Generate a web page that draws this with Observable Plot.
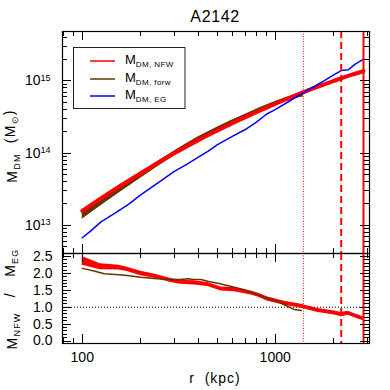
<!DOCTYPE html>
<html><head><meta charset="utf-8">
<script src="https://cdn.jsdelivr.net/npm/d3@7"></script>
<script src="https://cdn.jsdelivr.net/npm/@observablehq/plot@0.6"></script>
<style>
body{margin:0;background:#fff;}
#wrap{position:relative;width:390px;height:390px;font-family:"Liberation Sans",Arial,sans-serif;}
#wrap svg{position:absolute;left:0;overflow:visible;}
</style></head><body><div id="wrap"></div>
<script>
// ---- data ----
const titleText = "A2142";
const rNfw = [100,120,150,200,250,300,400,500,600,800,1000,1200,1500,2000,2500,2870];
const mNfw = [1.58e13,2.19e13,3.24e13,5.21e13,7.45e13,9.91e13,1.51e14,2.04e14,2.59e14,3.69e14,4.80e14,5.87e14,7.50e14,9.93e14,1.22e15,1.36e15];

const rForw = [100,150,200,300,400,500,700,1000,1200,1400];
const forwLo = [1.21e13,2.62e13,4.44e13,9.14e13,1.48e14,2.01e14,3.04e14,4.57e14,5.43e14,5.96e14];
const forwHi = [1.61e13,3.29e13,5.38e13,1.07e14,1.68e14,2.28e14,3.46e14,5.19e14,6.17e14,7.21e14];

const rEg = [100,110,125,150,175,200,250,300,350,400,450,500,600,700,800,900,1000,1200,1400,1600,1800,2000,2200,2400,2600,2870];
const mEg = [6.7e12,8.2e12,1.11e13,1.50e13,1.97e13,2.61e13,3.94e13,5.57e13,7.03e13,8.75e13,1.06e14,1.30e14,1.70e14,2.12e14,2.69e14,3.45e14,4.0e14,5.35e14,6.82e14,8.43e14,1.01e15,1.20e15,1.39e15,1.43e15,1.71e15,2.0e15];

const rRatioN = [100,124,155,171,201,236,288,324,380,447,524,614,750,813,916,1117,1365,1668,2033,2203,2388,2585,2860];
const ratioN  = [2.37,2.20,2.17,2.12,2.00,1.92,1.79,1.74,1.72,1.67,1.54,1.52,1.42,1.36,1.24,1.12,1.03,0.90,0.83,0.78,0.82,0.75,0.66];
const ratioNErr = [0.13,0.09,0.07,0.065,0.065,0.065,0.06,0.06,0.06,0.06,0.06,0.06,0.06,0.06,0.06,0.06,0.06,0.06,0.06,0.06,0.06,0.06,0.06];

const rRatioF = [100,115,130,155,171,201,236,288,324,352,380,412,447,504,614,692,750,813,916,1033,1164,1260,1365];
const ratioF  = [2.15,2.07,1.99,1.96,1.94,1.89,1.85,1.82,1.82,1.84,1.82,1.82,1.77,1.71,1.59,1.52,1.44,1.37,1.26,1.17,1.02,0.93,0.90];

const rDotted = 1400, rDashed = 2200, rSolid = 2870;
const xTicksMajor = [100,1000];
const xTicksMinor = [80,90,200,300,400,500,600,700,800,900,2000,3000];
const yTopMajor = [1e13,1e14,1e15];
const yTopMinor = [5e12,6e12,7e12,8e12,9e12,2e13,3e13,4e13,5e13,6e13,7e13,8e13,9e13,2e14,3e14,4e14,5e14,6e14,7e14,8e14,9e14,2e15,3e15,4e15];
const yBotMajor = [0,0.5,1,1.5,2,2.5];
const yBotMinor = [0.1,0.2,0.3,0.4,0.6,0.7,0.8,0.9,1.1,1.2,1.3,1.4,1.6,1.7,1.8,1.9,2.1,2.2,2.3,2.4];
const legendLabels = ["DM, NFW","DM, forw","DM, EG"];

// ---- tables ----
const nfw = rNfw.map((r,i)=>({r, m:mNfw[i]}));
const forw = rForw.map((r,i)=>({r, lo:forwLo[i], hi:forwHi[i]}));
const eg = rEg.map((r,i)=>({r, m:mEg[i]}));
const ratN = rRatioN.map((r,i)=>({r, v:ratioN[i], lo:ratioN[i]-ratioNErr[i], hi:ratioN[i]+ratioNErr[i]}));
const ratF = rRatioF.map((r,i)=>({r, v:ratioF[i]}));

const RED = "#ff0000", BROWN = "#663300", BLUE = "#0000ff";
const W = 390, L = 62, R = 369, T = 31, S = 253, B = 343;
const xDomain = [79, 3083];
const font = {fontFamily:"Liberation Sans, Arial, sans-serif", fontSize:"13px", background:"transparent"};

const vlines = [
  Plot.ruleX([rDotted], {stroke:RED, strokeWidth:1, strokeDasharray:"1,1.5"}),
  Plot.ruleX([rDashed], {stroke:RED, strokeWidth:2, strokeDasharray:"7,4"}),
  Plot.ruleX([rSolid], {stroke:RED, strokeWidth:2})
];

const topPlot = Plot.plot({
  width: W, height: S, marginLeft: L, marginRight: W - R, marginTop: T, marginBottom: 0,
  style: font,
  x: {type:"log", domain: xDomain, axis: null},
  y: {type:"log", domain: [4.05e12, 4.84e15]},
  marks: [
    Plot.areaY(forw, {x:"r", y1:"lo", y2:"hi", fill:BROWN, curve:"monotone-x"}),
    Plot.line(nfw, {x:"r", y:"m", stroke:RED, strokeWidth:4, curve:"monotone-x"}),
    Plot.line(eg, {x:"r", y:"m", stroke:BLUE, strokeWidth:1.5}),
    ...vlines,
    Plot.axisY({ticks: yTopMajor, tickSize:0, tickPadding:12, fontSize:14, label:null,
      tickFormat: d => String(Math.round(Math.log10(d)))}),
    Plot.frame({stroke:"black", strokeWidth:1.2})
  ]
});

const botPlot = Plot.plot({
  width: W, height: W - S, marginLeft: L, marginRight: W - R, marginTop: 0, marginBottom: W - B,
  style: font,
  x: {type:"log", domain: xDomain},
  y: {domain: [-0.074, 2.59]},
  marks: [
    Plot.ruleY([1], {stroke:"black", strokeWidth:1, strokeDasharray:"1,2"}),
    Plot.areaY(ratN, {x:"r", y1:"lo", y2:"hi", fill:RED}),
    Plot.line(ratF, {x:"r", y:"v", stroke:BROWN, strokeWidth:1.5}),
    ...vlines,
    Plot.axisY({ticks: yBotMajor, tickSize:0, tickPadding:10, fontSize:14, label:null, tickFormat: d3.format(".1f")}),
    Plot.axisX({ticks: xTicksMajor, tickSize:0, tickPadding:9, fontSize:14, label:null, tickFormat: d3.format("d")}),
    Plot.frame({stroke:"black", strokeWidth:1.2})
  ]
});

const wrap = document.getElementById("wrap");
topPlot.style.top = "0px";
botPlot.style.top = S + "px";
wrap.appendChild(topPlot);
wrap.appendChild(botPlot);

// superscript exponents on the log axis
d3.select(topPlot).selectAll('g[aria-label="y-axis tick label"] text').each(function(){
  const e = this.textContent;
  this.textContent = "10";
  d3.select(this).append("tspan").attr("dy","-0.5em").attr("font-size","9px").text(e);
});

// inward ticks on all sides, positioned with the plots' scales
function inwardTicks(plot, xMaj, xMin, yMaj, yMin) {
  const x = plot.scale("x"), y = plot.scale("y");
  const [xl, xr] = x.range, [yb, yt] = y.range;
  const g = d3.select(plot).append("g").attr("stroke","black").attr("stroke-width",1);
  const seg = (x1,y1,x2,y2) => g.append("line").attr("x1",x1).attr("y1",y1).attr("x2",x2).attr("y2",y2);
  const xt = (v,len) => { const p = Math.round(x.apply(v)) + 0.5; seg(p,yb,p,yb-len); seg(p,yt,p,yt+len); };
  const yt2 = (v,len) => { const p = Math.round(y.apply(v)) + 0.5; seg(xl,p,xl+len,p); seg(xr,p,xr-len,p); };
  xMaj.forEach(v=>xt(v,9)); xMin.forEach(v=>xt(v,5));
  yMaj.forEach(v=>yt2(v,9)); yMin.forEach(v=>yt2(v,5));
}
inwardTicks(topPlot, xTicksMajor, xTicksMinor, yTopMajor, yTopMinor);
inwardTicks(botPlot, xTicksMajor, xTicksMinor, yBotMajor, yBotMinor);

// overlay: title, axis labels, legend
const ov = d3.select(wrap).append("svg").attr("width",W).attr("height",W)
  .style("top","0px").style("pointer-events","none")
  .attr("font-family","Liberation Sans, Arial, sans-serif");
ov.append("text").attr("x",215).attr("y",21.5).attr("text-anchor","middle").attr("font-size",16)
  .attr("letter-spacing","0.6").text(titleText);
ov.append("text").attr("x",215).attr("y",383).attr("text-anchor","middle").attr("font-size",14)
  .attr("letter-spacing","1").attr("xml:space","preserve").style("white-space","pre").text("r  (kpc)");

const yl = ov.append("text").attr("transform","translate(17,146) rotate(-90)").attr("text-anchor","middle")
  .attr("font-size",14).attr("letter-spacing","1.2").style("white-space","pre");
yl.append("tspan").text("M");
yl.append("tspan").attr("font-size",9).attr("dy","0.35em").text("DM");
yl.append("tspan").attr("dy","-0.35em").text("  (M");
yl.append("tspan").attr("font-size",9).attr("dy","0.35em").text("\u2299");
yl.append("tspan").attr("dy","-0.35em").text(")");

const yl2 = ov.append("text").attr("transform","translate(17,299) rotate(-90)").attr("text-anchor","middle")
  .attr("font-size",14).attr("letter-spacing","1.2").style("white-space","pre");
yl2.append("tspan").text("M");
yl2.append("tspan").attr("font-size",9).attr("dy","0.35em").text("NFW");
yl2.append("tspan").attr("dy","-0.35em").text("   /   M");
yl2.append("tspan").attr("font-size",9).attr("dy","0.35em").text("EG");

const lg = ov.append("g");
lg.append("rect").attr("x",73.5).attr("y",47.5).attr("width",111.5).attr("height",61)
  .attr("fill","white").attr("stroke","#222").attr("stroke-width",1);
const cols = [RED, BROWN, BLUE];
const ly = [61, 79, 96];
legendLabels.forEach((lab,i) => {
  lg.append("line").attr("x1",90).attr("x2",115).attr("y1",ly[i]).attr("y2",ly[i]).attr("stroke",cols[i]).attr("stroke-width",1.5);
  const t = lg.append("text").attr("x",125).attr("y",ly[i]+3).attr("font-size",13);
  t.append("tspan").text("M");
  t.append("tspan").attr("font-size",8).attr("dy","0.35em").attr("letter-spacing","0.4").text(lab);
});
</script>
</body></html>
